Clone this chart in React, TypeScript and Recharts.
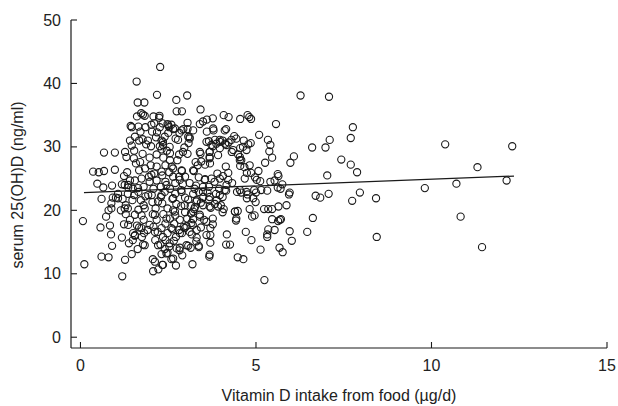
import { ScatterChart, Scatter, XAxis, YAxis, ReferenceLine } from 'recharts';

// x = vitamin D intake from food (µg/d), y = serum 25(OH)D (ng/ml)
const outlierPoints: [number, number][] = [
  [2.27, 42.6], [1.6, 40.3], [2.18, 38.2], [2.73, 37.4], [3.04, 38.1], [1.63, 37.0], [1.82, 37.0],
  [2.74, 35.6], [2.89, 35.6], [3.42, 35.9], [4.08, 35.0], [4.22, 34.7], [4.76, 35.0], [4.81, 34.7],
  [4.86, 34.4], [4.55, 34.4], [6.27, 38.1], [7.08, 37.9], [5.57, 33.6], [7.76, 33.1], [7.7, 31.4],
  [7.1, 31.1], [5.09, 31.9], [5.34, 31.1], [5.41, 30.3], [6.6, 29.9], [6.98, 29.9], [10.39, 30.4],
  [12.3, 30.1], [6.08, 28.5], [5.98, 27.5], [7.43, 28.0], [7.7, 27.2], [7.88, 26.0], [7.03, 25.5],
  [11.31, 26.8], [12.14, 24.7], [10.71, 24.2], [9.81, 23.5], [7.96, 22.8], [7.07, 22.6], [6.7, 22.3],
  [6.83, 22.0], [8.42, 21.9], [7.74, 21.5], [10.83, 19.0], [8.44, 15.8], [11.44, 14.2], [6.62, 18.8],
  [6.46, 16.6], [5.96, 16.7], [6.02, 15.2], [5.87, 20.8], [5.96, 22.8], [5.94, 22.5], [5.24, 9.0],
  [1.19, 9.6], [0.11, 11.5], [0.07, 18.3],
];

const lowIntakePoints: [number, number][] = [
  [0.36, 26.1], [0.52, 26.0], [0.48, 24.2], [0.65, 23.6], [0.67, 26.2], [0.98, 26.4], [0.67, 29.1],
  [0.98, 29.1], [0.6, 21.8], [0.57, 17.3], [0.6, 12.7], [0.8, 12.6], [0.87, 16.2], [0.9, 14.4],
  [0.84, 17.6], [0.73, 19.0], [0.8, 20.0], [0.88, 21.1], [0.92, 22.0], [0.9, 23.9], [1.01, 22.0],
  [1.27, 12.2], [1.18, 15.7], [2.07, 10.4], [2.22, 10.7], [2.33, 11.4], [2.72, 11.3], [3.19, 11.5],
  [2.06, 12.3], [2.59, 12.3], [3.67, 12.7], [2.9, 12.9],
  [1.36, 24.0], [1.07, 21.9], [0.88, 20.3], [1.26, 20.3], [1.55, 19.3], [1.36, 17.7], [1.74, 17.2],
  [1.55, 16.1], [1.83, 14.5], [2.12, 16.6], [2.21, 14.5], [2.12, 11.9], [1.26, 24.0], [1.64, 23.5],
  [1.93, 22.4], [2.21, 21.4], [1.83, 20.3], [2.12, 19.3], [1.74, 25.0], [2.02, 25.6], [2.31, 26.1],
];

const midIntakePoints: [number, number][] = [
  [4.48, 12.6], [4.64, 12.3], [5.13, 13.8], [5.76, 13.4], [5.67, 14.1], [4.15, 14.6], [4.26, 14.6],
  [4.87, 15.3], [5.32, 15.8], [5.32, 16.2], [5.53, 16.9], [5.35, 17.0], [4.71, 16.6], [4.17, 16.2],
  [3.7, 14.9], [3.31, 15.7], [3.37, 14.4], [3.37, 14.2], [4.43, 18.4], [4.4, 19.8], [4.48, 19.9],
  [4.89, 19.0], [4.96, 19.2], [5.46, 18.6], [5.63, 18.3], [5.68, 18.5], [5.71, 18.6], [4.82, 20.2],
  [5.23, 20.2], [5.35, 20.2], [5.46, 20.2], [5.64, 20.6], [4.99, 21.3], [4.76, 22.5], [5.0, 22.8],
  [5.15, 23.2], [4.95, 23.2], [5.32, 23.1], [5.62, 23.6], [5.7, 23.4], [5.75, 24.1], [5.53, 24.7],
  [5.64, 25.4], [5.62, 25.7], [5.41, 24.5], [5.12, 24.6], [5.02, 24.8], [5.07, 26.2], [5.26, 27.5],
  [5.46, 28.3], [5.38, 29.3], [4.85, 30.6], [4.78, 30.4], [4.65, 31.0], [4.55, 29.8], [4.38, 31.7],
  [4.31, 29.2], [4.22, 30.7], [4.12, 30.5], [4.05, 31.0], [4.15, 32.8], [4.49, 28.8], [4.58, 27.9],
  [4.55, 27.0], [4.14, 26.9], [4.21, 25.9], [4.06, 25.4], [4.74, 25.9], [4.67, 26.8], [4.86, 25.9],
  [4.97, 25.2], [4.68, 25.0], [4.32, 24.3], [4.16, 24.0], [4.46, 22.9], [4.58, 22.8], [4.74, 21.9],
  [4.05, 22.1], [4.15, 23.1], [4.0, 20.8], [4.08, 20.2], [4.05, 19.7],
  [4.54, 23.2], [4.73, 22.9], [4.92, 21.9], [4.4, 19.8], [4.44, 18.7], [3.49, 34.0], [4.44, 31.3],
  [4.3, 31.1], [4.16, 30.3], [4.63, 30.0], [3.83, 31.1], [3.97, 30.8], [4.35, 29.5], [4.54, 28.4],
  [4.73, 29.5], [4.54, 27.9], [4.82, 27.1], [3.97, 29.8], [3.92, 28.7],
];

const coreIntakePoints: [number, number][] = [
  [3.83, 21.0], [3.71, 20.4], [3.77, 18.7], [3.77, 17.8], [3.7, 17.2], [3.7, 16.1], [3.59, 16.1],
  [3.43, 17.3], [3.52, 18.5], [3.4, 19.3], [3.24, 20.2], [3.15, 19.5], [3.2, 17.7], [3.02, 17.5],
  [3.17, 16.2], [3.31, 16.9], [3.07, 14.4], [3.14, 14.1], [2.82, 13.7], [2.83, 14.1], [2.66, 15.2],
  [2.72, 15.8], [2.89, 16.4], [2.94, 17.4], [2.83, 18.5], [2.98, 19.7], [2.87, 20.7], [3.07, 21.7],
  [3.21, 22.6], [3.25, 23.4], [3.11, 24.3], [3.37, 25.2], [3.23, 26.2], [3.34, 27.1], [3.28, 27.6],
  [3.44, 27.7], [3.55, 27.2], [3.42, 28.9], [3.05, 28.9], [2.96, 29.9], [3.08, 30.6], [3.11, 31.5],
  [3.05, 32.8], [3.05, 33.8], [2.93, 32.8], [2.82, 32.2], [2.71, 31.3], [2.64, 32.8], [2.59, 33.5],
  [3.4, 33.6], [3.6, 34.3], [3.77, 34.5], [3.6, 32.4], [3.79, 32.6], [3.66, 30.9], [3.77, 30.1],
  [3.87, 30.5], [3.97, 31.1], [3.68, 29.2], [3.68, 28.4], [3.69, 27.4], [3.55, 24.9], [3.82, 24.5],
  [3.9, 25.8], [3.66, 23.7], [3.62, 22.8], [3.66, 21.7], [3.86, 22.6], [3.95, 23.4], [3.88, 21.6],
  [3.5, 22.1], [3.43, 21.2], [2.25, 34.9], [2.24, 34.6], [2.08, 34.8], [1.73, 35.3], [1.78, 35.1],
  [1.83, 34.9], [1.61, 34.8], [1.43, 33.3], [1.46, 33.1], [1.65, 33.2], [1.85, 33.1], [2.02, 33.5],
  [2.1, 33.7], [2.26, 33.1], [2.34, 33.7], [2.48, 33.6], [2.53, 33.1], [2.5, 32.2], [2.18, 32.3],
  [2.04, 32.4], [1.71, 32.4], [1.55, 31.6], [1.41, 31.0], [1.67, 31.0], [1.77, 31.2], [1.92, 31.0],
  [2.15, 31.5], [2.35, 30.8], [2.31, 31.0], [2.26, 30.1], [1.87, 30.4], [2.01, 30.1], [1.46, 30.2],
  [1.27, 29.2], [1.53, 29.4], [1.77, 28.9], [1.31, 28.4], [1.52, 28.2], [1.58, 27.4], [1.7, 27.6],
  [1.97, 28.3], [2.17, 28.8], [2.31, 29.6], [2.46, 29.4], [2.55, 29.0], [2.36, 28.3], [2.55, 27.9],
  [2.76, 27.9], [2.81, 28.8], [2.6, 26.9], [2.42, 27.1], [2.17, 26.9], [2.0, 27.1], [1.84, 26.6],
  [1.67, 26.3], [1.33, 26.0], [1.24, 25.4], [1.41, 24.7], [1.55, 24.7], [1.18, 24.1], [1.07, 22.6],
  [1.2, 21.8], [1.35, 22.6], [1.36, 23.6], [1.49, 23.4], [1.53, 22.4], [1.48, 21.6], [1.29, 20.8],
  [1.35, 20.3], [1.15, 20.0], [1.29, 19.4], [1.41, 18.5], [1.24, 17.8], [1.61, 17.6], [1.67, 17.3],
  [1.5, 16.4], [1.55, 16.0], [1.49, 15.3], [1.38, 14.8], [1.46, 13.1], [1.63, 13.9], [1.78, 14.6],
  [1.81, 16.4], [1.75, 15.8], [1.91, 16.9], [1.97, 17.7], [1.8, 18.5], [1.74, 19.2], [1.65, 20.1],
  [1.8, 20.8], [1.72, 21.6], [1.85, 22.2], [1.65, 22.9], [1.8, 23.7], [1.97, 24.5], [1.95, 25.3],
  [2.1, 25.8], [2.17, 24.7], [2.08, 23.4], [2.03, 22.4], [2.05, 21.3], [2.14, 20.3], [2.06, 19.4],
  [2.17, 18.5], [2.08, 17.4], [2.2, 16.6], [2.13, 15.3], [2.28, 14.6], [2.4, 13.9], [2.48, 13.3],
  [2.31, 13.1], [2.53, 14.3], [2.42, 15.3], [2.48, 16.4], [2.31, 17.2], [2.42, 17.9], [2.55, 18.7],
  [2.36, 19.4], [2.48, 20.3], [2.33, 21.1], [2.29, 22.1], [2.4, 22.9], [2.29, 23.7], [2.42, 24.5],
  [2.33, 25.5], [2.53, 26.0], [2.64, 25.3], [2.7, 24.3], [2.55, 23.4], [2.7, 22.6], [2.62, 21.8],
  [2.73, 21.0], [2.64, 20.0], [2.7, 19.2], [2.67, 17.9], [2.62, 17.0], [2.81, 16.9], [2.87, 23.2],
  [2.92, 24.1], [2.98, 25.3], [2.89, 26.2], [2.81, 25.3], [2.98, 22.0], [3.14, 20.7], [3.21, 18.6],
  [3.04, 18.7], [3.29, 23.9], [3.37, 22.9], [3.49, 23.7], [3.32, 21.6], [3.26, 20.5],
  [2.64, 26.6], [2.88, 26.3], [3.21, 26.3], [3.54, 24.8], [3.73, 25.0], [3.97, 25.0], [4.21, 24.8],
  [4.11, 23.2], [3.97, 22.4], [3.68, 22.1], [3.49, 22.9], [3.3, 21.4], [3.49, 20.8], [3.68, 20.6],
  [3.92, 20.6], [3.21, 19.8], [3.4, 19.0], [3.59, 18.2], [3.16, 18.0], [2.97, 17.2], [2.83, 16.4],
  [3.11, 16.6], [3.3, 15.1], [3.02, 14.5], [2.74, 14.0], [2.45, 13.2], [2.64, 12.4], [2.35, 11.4],
  [3.68, 13.0], [2.83, 24.8], [2.45, 24.0], [2.31, 22.4], [2.64, 21.9], [2.88, 22.9], [2.97, 20.8],
  [2.69, 19.8], [2.45, 18.7], [2.59, 17.2], [2.35, 15.8], [2.54, 14.8],
  [2.5, 33.4], [2.69, 32.9], [2.88, 32.6], [3.07, 31.6], [3.21, 32.6], [3.78, 32.9], [4.11, 32.6],
  [2.78, 31.1], [3.11, 31.3], [2.92, 29.2], [2.4, 31.6], [2.35, 30.3], [2.54, 30.0], [3.59, 30.8],
  [3.73, 30.3], [3.68, 29.2], [3.4, 29.2], [3.68, 28.2],
];

// fitted regression line, read at its two ends
const fitX = [0.1, 12.35];
const fitY = [22.8, 25.4];

const xTicks = [0, 5, 10, 15];
const yTicks = [0, 10, 20, 30, 40, 50];

const allPoints = [...outlierPoints, ...lowIntakePoints, ...midIntakePoints, ...coreIntakePoints].map(
  ([x, y]) => ({ x, y }),
);

const FONT = '"Liberation Sans", Arial, sans-serif';
const INK = '#1a1a1a';

function Ring(props: any) {
  const { cx, cy } = props;
  return <circle cx={cx} cy={cy} r={3.6} fill="none" stroke={INK} strokeWidth={1.1} />;
}

function XTick({ x, y, payload }: any) {
  return (
    <g>
      <line x1={x} y1={y} x2={x} y2={y - 6} stroke={INK} strokeWidth={1.1} />
      <text x={x} y={y + 23} textAnchor="middle" fontSize={16} fill="#222" fontFamily={FONT}>
        {payload.value}
      </text>
    </g>
  );
}

function YTick({ x, y, payload }: any) {
  return (
    <g>
      <line x1={x} y1={y} x2={x + 6} y2={y} stroke={INK} strokeWidth={1.1} />
      <text x={x - 10} y={y + 5.5} textAnchor="end" fontSize={16} fill="#222" fontFamily={FONT}>
        {payload.value}
      </text>
    </g>
  );
}

function YTitle() {
  return (
    <text
      x={17}
      y={185}
      transform="rotate(-90 17 185)"
      textAnchor="middle"
      dominantBaseline="central"
      fontSize={16}
      fill="#222"
      fontFamily={FONT}
    >
      serum 25(OH)D (ng/ml)
    </text>
  );
}

function XTitle() {
  return (
    <text x={339} y={401} textAnchor="middle" fontSize={16} fill="#222" fontFamily={FONT}>
      Vitamin D intake from food (µg/d)
    </text>
  );
}

export default function App() {
  return (
    <div style={{ position: 'fixed', left: 0, top: 0, width: 618, height: 406, background: '#fff' }}>
      <ScatterChart width={618} height={406} margin={{ top: 20, right: 11, bottom: 0, left: 0 }}>
        <XAxis
          type="number"
          dataKey="x"
          domain={[-0.27, 15]}
          ticks={xTicks}
          allowDataOverflow
          height={58}
          tickSize={0}
          tickMargin={0}
          tick={<XTick />}
          axisLine={{ stroke: INK, strokeWidth: 1.2 }}
          label={<XTitle />}
        />
        <YAxis
          type="number"
          dataKey="y"
          domain={[-1.7, 50]}
          ticks={yTicks}
          allowDataOverflow
          width={71}
          tickSize={0}
          tickMargin={0}
          tick={<YTick />}
          axisLine={{ stroke: INK, strokeWidth: 1.2 }}
          label={<YTitle />}
        />
        <Scatter data={allPoints} shape={<Ring />} isAnimationActive={false} />
        <ReferenceLine
          segment={[
            { x: fitX[0], y: fitY[0] },
            { x: fitX[1], y: fitY[1] },
          ]}
          stroke={INK}
          strokeWidth={1.2}
          ifOverflow="visible"
        />
      </ScatterChart>
    </div>
  );
}
